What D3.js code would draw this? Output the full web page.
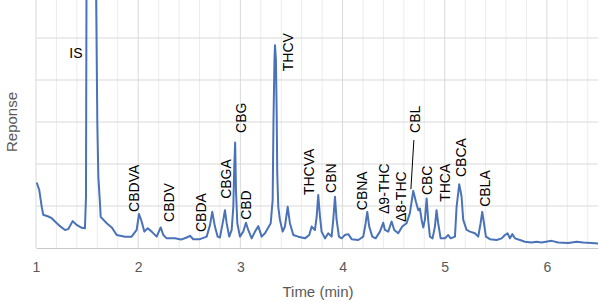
<!DOCTYPE html>
<html>
<head>
<meta charset="utf-8">
<script src="https://cdn.jsdelivr.net/npm/d3@7"></script>
<style>
  body { margin: 0; background: #fff; }
  svg { display: block; font-family: "Liberation Sans", Arial, sans-serif; }
</style>
</head>
<body>
<svg id="chrom" width="602" height="301"></svg>
<script>
// retention time (min) and detector response (gridline units)
var time = [1.007, 1.032, 1.056, 1.071, 1.120, 1.154, 1.186, 1.235, 1.284, 1.316, 1.359, 1.398, 1.447, 1.479,
  1.489, 1.494, 1.499, 1.528, 1.577, 1.589, 1.600, 1.610, 1.626, 1.633, 1.692, 1.741, 1.790, 1.871, 1.936,
  1.985, 2.008, 2.034, 2.060, 2.093, 2.132, 2.181, 2.220, 2.246, 2.279, 2.360, 2.419, 2.475, 2.507, 2.539,
  2.605, 2.670, 2.703, 2.725, 2.751, 2.778, 2.800, 2.833, 2.849, 2.866, 2.891, 2.915, 2.931, 2.940, 2.949,
  2.957, 2.970, 2.996, 3.028, 3.055, 3.077, 3.111, 3.143, 3.175, 3.208, 3.241, 3.273, 3.297, 3.316, 3.324,
  3.334, 3.339, 3.348, 3.355, 3.361, 3.371, 3.387, 3.414, 3.436, 3.463, 3.485, 3.518, 3.567, 3.632, 3.674,
  3.698, 3.730, 3.747, 3.762, 3.779, 3.795, 3.828, 3.860, 3.893, 3.909, 3.926, 3.942, 3.965, 3.991, 4.023,
  4.056, 4.089, 4.154, 4.203, 4.226, 4.242, 4.261, 4.291, 4.324, 4.366, 4.398, 4.415, 4.447, 4.480, 4.506,
  4.545, 4.584, 4.627, 4.659, 4.692, 4.718, 4.741, 4.757, 4.774, 4.790, 4.806, 4.823, 4.838, 4.855, 4.881,
  4.904, 4.920, 4.936, 4.960, 5.002, 5.034, 5.058, 5.100, 5.116, 5.142, 5.165, 5.181, 5.214, 5.247, 5.295,
  5.328, 5.351, 5.367, 5.384, 5.403, 5.442, 5.508, 5.557, 5.589, 5.615, 5.638, 5.661, 5.687, 5.736, 5.785,
  5.850, 5.899, 5.948, 6.046, 6.111, 6.209, 6.291, 6.355, 6.437, 6.519];
var response = [1.56, 1.38, 0.98, 0.79, 0.75, 0.71, 0.63, 0.52, 0.43, 0.45, 0.64, 0.55, 0.48, 0.47,
  1.20, 6.0, 9.0, 10.0, 9.0, 5.9, 3.0, 1.70, 1.07, 0.74, 0.59, 0.49, 0.31, 0.27, 0.27,
  0.43, 0.81, 0.63, 0.39, 0.47, 0.39, 0.27, 0.49, 0.31, 0.23, 0.23, 0.20, 0.25, 0.29, 0.21,
  0.21, 0.27, 0.55, 0.86, 0.51, 0.27, 0.25, 0.67, 0.90, 0.59, 0.27, 0.43, 0.98, 1.90, 2.51,
  1.38, 0.59, 0.27, 0.39, 0.60, 0.43, 0.23, 0.39, 0.52, 0.27, 0.35, 0.49, 0.59, 1.14, 3.00,
  4.50, 4.83, 4.48, 3.30, 1.78, 0.98, 0.67, 0.39, 0.51, 0.98, 0.59, 0.31, 0.27, 0.23, 0.31,
  0.51, 0.43, 0.75, 1.26, 0.75, 0.39, 0.23, 0.35, 0.27, 0.67, 1.22, 0.67, 0.27, 0.23, 0.31,
  0.33, 0.21, 0.19, 0.27, 0.59, 0.86, 0.51, 0.27, 0.23, 0.39, 0.60, 0.43, 0.39, 0.63, 0.43,
  0.35, 0.51, 0.59, 0.83, 1.36, 1.10, 0.90, 0.94, 0.67, 0.49, 0.67, 1.18, 0.67, 0.27, 0.23,
  0.51, 0.90, 0.59, 0.23, 0.23, 0.31, 0.23, 0.27, 0.98, 1.52, 1.22, 0.67, 0.43, 0.39, 0.35,
  0.27, 0.59, 0.86, 0.59, 0.27, 0.21, 0.19, 0.23, 0.31, 0.35, 0.23, 0.33, 0.23, 0.19, 0.15,
  0.13, 0.15, 0.13, 0.17, 0.13, 0.12, 0.15, 0.13, 0.12, 0.10];

// peak labels: name, retention time of label, response at label foot
var peakNames = ["CBDVA", "CBDV", "CBDA", "CBGA", "CBG", "CBD", "THCV", "THCVA", "CBN", "CBNA",
  "Δ9-THC", "Δ8-THC", "CBL", "CBC", "THCA", "CBCA", "CBLA"];
var peakTimes = [1.959, 2.301, 2.614, 2.859, 3.006, 3.055, 3.466, 3.671, 3.886, 4.190,
  4.405, 4.571, 4.708, 4.831, 5.002, 5.159, 5.398];
var peakLevels = [0.86, 0.62, 0.38, 1.17, 2.74, 0.67, 4.21, 1.26, 1.31, 0.90,
  0.81, 0.62, 2.74, 1.26, 1.10, 1.69, 0.98];

var xTicks = [1, 2, 3, 4, 5, 6];

var svg = d3.select("#chrom");

var x = d3.scaleLinear().domain([1, 6.5]).range([36, 598]);
var y = d3.scaleLinear().domain([0, 6]).range([248, -4]);

// gridlines
svg.append("g")
  .selectAll("line")
  .data(d3.range(1, 6.5001, 0.2))
  .enter().append("line")
    .attr("x1", d => x(d)).attr("x2", d => x(d))
    .attr("y1", 0).attr("y2", y(0))
    .attr("stroke", d => Math.abs(d - Math.round(d)) < 0.01 ? "#d9d9d9" : "#ececec")
    .attr("stroke-width", 1);

svg.append("g")
  .selectAll("line")
  .data(d3.range(1, 7))
  .enter().append("line")
    .attr("x1", x(1)).attr("x2", x(6.5))
    .attr("y1", d => y(d)).attr("y2", d => y(d))
    .attr("stroke", "#d9d9d9");

// x axis
var xAxis = svg.append("g")
  .attr("transform", "translate(0," + y(0) + ")")
  .call(d3.axisBottom(x).tickValues(xTicks).tickSize(0).tickPadding(14).tickFormat(d3.format("d")));
xAxis.select(".domain").attr("stroke", "#c8c8c8").attr("stroke-width", 1.2);
xAxis.selectAll("text").attr("fill", "#595959").attr("font-size", 14)
  .attr("font-family", "Liberation Sans, Arial, sans-serif");

svg.append("text")
  .attr("x", 318).attr("y", 297)
  .attr("text-anchor", "middle")
  .attr("fill", "#595959").attr("font-size", 15)
  .text("Time (min)");

svg.append("text")
  .attr("transform", "translate(17,122) rotate(-90)")
  .attr("text-anchor", "middle")
  .attr("fill", "#595959").attr("font-size", 15)
  .text("Reponse");

// trace
svg.append("clipPath").attr("id", "plotclip")
  .append("rect").attr("x", x(1)).attr("y", 0).attr("width", x(6.5) - x(1)).attr("height", y(0));

var line = d3.line()
  .x(d => x(d[0]))
  .y(d => y(d[1]));

svg.append("path")
  .datum(d3.zip(time, response))
  .attr("clip-path", "url(#plotclip)")
  .attr("fill", "none")
  .attr("stroke", "#4a72b8")
  .attr("stroke-width", 2)
  .attr("stroke-linejoin", "round")
  .attr("d", line);

// labels
svg.append("g")
  .selectAll("text")
  .data(d3.zip(peakNames, peakTimes, peakLevels))
  .enter().append("text")
    .attr("transform", d => "translate(" + x(d[1]) + "," + y(d[2]) + ") rotate(-90)")
    .attr("dy", "0.35em")
    .attr("font-size", 14)
    .attr("fill", "#000")
    .text(d => d[0]);

svg.append("text")
  .attr("x", x(1.391)).attr("y", y(4.65))
  .attr("dy", "0.35em")
  .attr("text-anchor", "middle")
  .attr("font-size", 14)
  .text("IS");

// leader line to CBL peak
svg.append("line")
  .attr("x1", x(4.698)).attr("y1", y(2.57))
  .attr("x2", x(4.669)).attr("y2", y(1.40))
  .attr("stroke", "#000").attr("stroke-width", 1);
</script>
</body>
</html>
